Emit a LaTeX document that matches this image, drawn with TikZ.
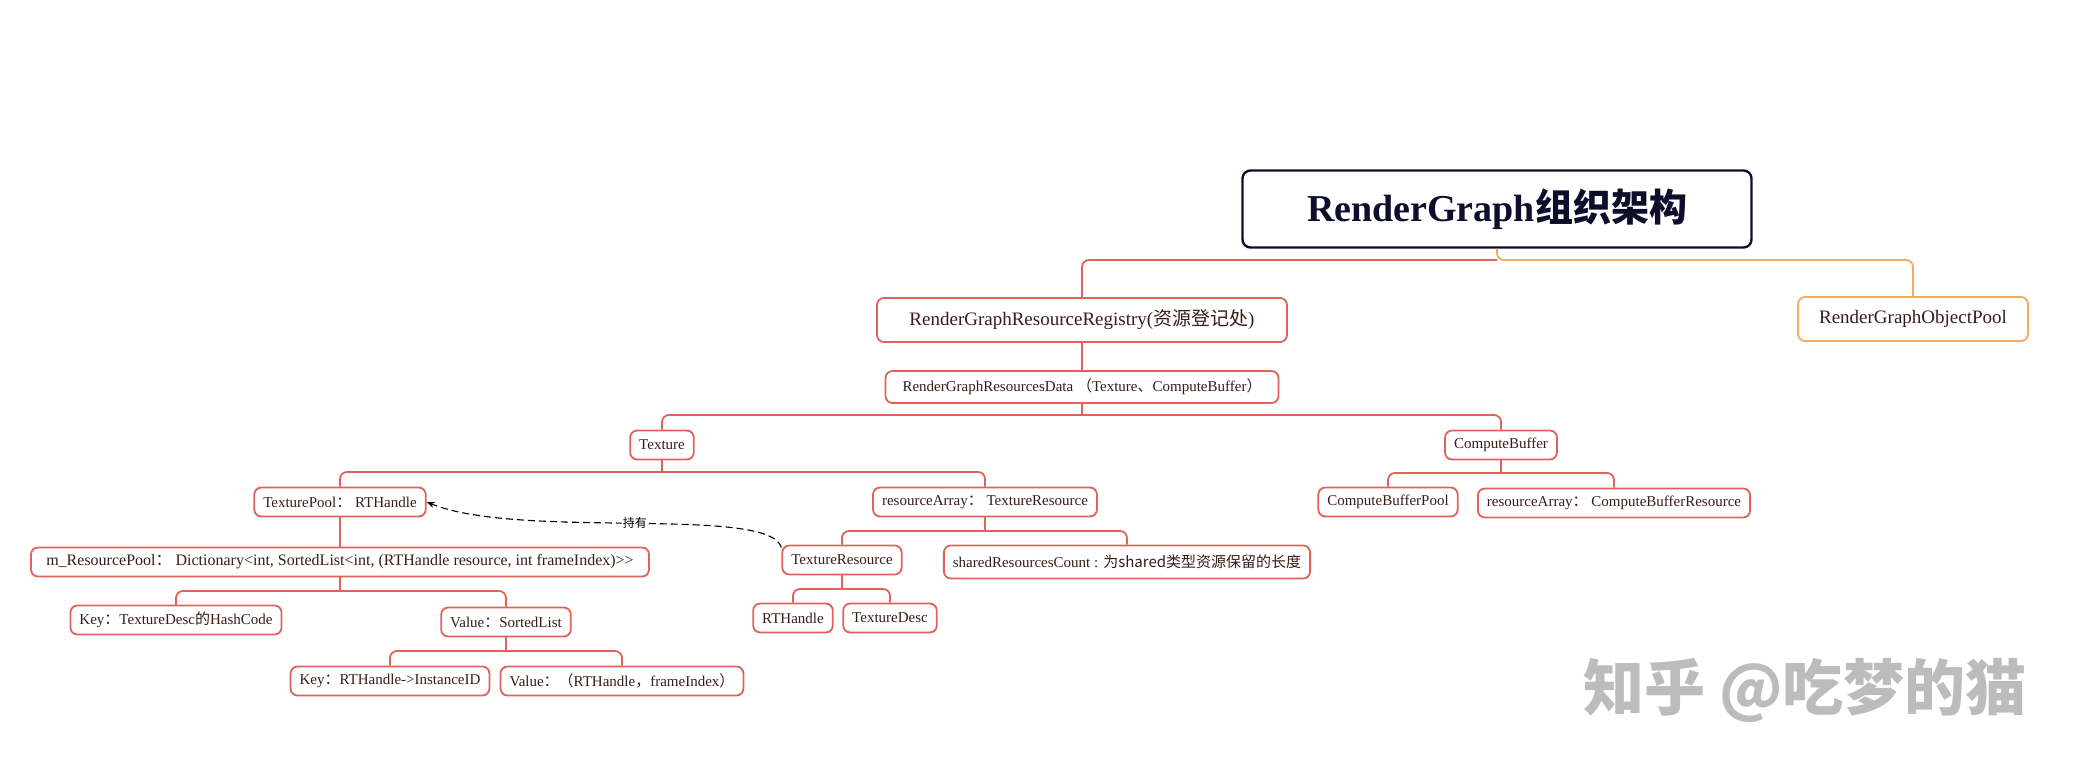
\documentclass[tikz,border=0pt]{standalone}
\usepackage{fontspec}
\setmainfont{Liberation Serif}
\newfontfamily\cjk{Noto Sans CJK SC}
\usetikzlibrary{arrows.meta}

\definecolor{linered}{RGB}{224,98,90}
\definecolor{lineorange}{RGB}{242,170,100}
\definecolor{txtbrown}{RGB}{58,28,24}
\definecolor{navy}{RGB}{14,14,44}
\definecolor{markgray}{RGB}{188,188,188}

\begin{document}
\begin{tikzpicture}[x=1pt,y=-1pt,
	box/.style={draw=linered, line width=1.8pt, rounded corners=7pt, fill=white,
		text=txtbrown, font=\fontsize{15}{18}\selectfont,
		inner xsep=9pt, inner ysep=0pt, minimum height=29pt},
	bigbox/.style={box, font=\fontsize{19}{22}\selectfont, minimum height=44pt, inner xsep=18pt},
	link/.style={draw=linered, line width=1.8pt, rounded corners=7pt},
	orangelink/.style={link, draw=lineorange},
	]
	\useasboundingbox (0,0) rectangle (2081,773);
	%% 根节点
	\node[draw=navy, line width=2.4pt, rounded corners=8pt, text=navy,
		minimum width=509pt, minimum height=77pt,
		font=\bfseries\fontsize{38}{44}\selectfont] (root) at (1497,209)
		{RenderGraph{\cjk\bfseries 组织架构}};
	\node[bigbox, draw=lineorange, inner xsep=21pt] (pool) at (1913,319) {RenderGraphObjectPool};
	\node[bigbox, minimum width=410pt] (reg) at (1082,320) {RenderGraphResourceRegistry({\cjk 资源登记处})};
	\node[box, minimum height=32pt, inner xsep=17pt] (data) at (1082,387)
		{RenderGraphResourcesData {\cjk （}Texture{\cjk 、}ComputeBuffer{\cjk ）}};
	%% Texture
	\node[box] (tex) at (662,445) {Texture};
	\node[box] (tpool) at (340,502) {TexturePool{\cjk ：} RTHandle};
	\node[box, font=\fontsize{16}{19}\selectfont, minimum width=618pt] (mpool) at (340,562)
		{m\_ResourcePool{\cjk ：} Dictionary<int, SortedList<int, (RTHandle resource, int frameIndex)>{}>};
	\node[box] (key) at (176,620) {Key{\cjk ：}TextureDesc{\cjk 的}HashCode};
	\node[box] (val) at (506,622) {Value{\cjk ：}SortedList};
	\node[box] (key2) at (390,681) {Key{\cjk ：}RTHandle->InstanceID};
	\node[box] (val2) at (622,681) {Value{\cjk ：（}RTHandle{\cjk ，}frameIndex{\cjk ）}};
	\node[box] (rarr) at (985,502) {resourceArray{\cjk ：} TextureResource};
	\node[box] (tres) at (842,560) {TextureResource};
	\node[box, minimum height=33pt] (shared) at (1127,562)
		{sharedResourcesCount : {\cjk 为shared类型资源保留的长度}};
	\node[box] (rth) at (793,618) {RTHandle};
	\node[box] (tdesc) at (890,618) {TextureDesc};
	%% ComputeBuffer
	\node[box] (cb) at (1501,445) {ComputeBuffer};
	\node[box] (cbpool) at (1388,502) {ComputeBufferPool};
	\node[box] (cbarr) at (1614,503) {resourceArray{\cjk ：} ComputeBufferResource};
	% 水印
	\node[text=markgray, font=\cjk\bfseries\fontsize{61}{66}\selectfont] (mark) at (1805,690)
		{知乎 @吃梦的猫};

	% 对各个节点连线
	\draw[orangelink] (root.south) -- (root.south |- 0,260) -| (pool.north);
	\draw[link] (root.south |- 0,260) -| (reg.north);
	\draw[link] (reg.south) -- (data.north);
	\draw[link] (tpool.south) -- (mpool.north);
	\foreach \p/\c/\y in {data/tex/415, data/cb/415, tex/tpool/472, tex/rarr/472,
		cb/cbpool/473, cb/cbarr/473, mpool/key/591, mpool/val/591,
		val/key2/651, val/val2/651, rarr/tres/531, rarr/shared/531,
		tres/rth/589, tres/tdesc/589}{
		\draw[link, rounded corners=0pt] (\p.south) -- (\p.south |- 0,\y);
		\draw[link] (\p.south |- 0,\y) -| (\c.north);
	}
	% 持有
	\draw[line width=1.1pt, dash pattern=on 7pt off 4pt, -{Stealth[length=8pt,width=6pt]}]
		([yshift=-3pt]tres.north west) .. controls (770,505) and (520,540) .. (tpool.east)
		node[midway, fill=white, inner sep=1pt, font=\cjk\fontsize{12}{14}\selectfont] (own) {持有};
\end{tikzpicture}
\end{document}
